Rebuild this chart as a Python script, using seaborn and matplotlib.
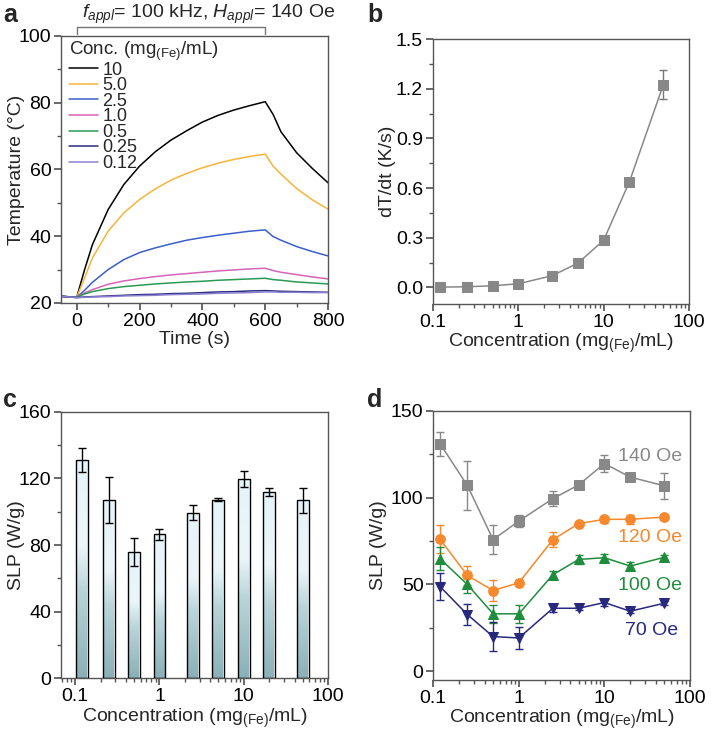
import numpy as np
import pandas as pd
import matplotlib
matplotlib.use("Agg")
import matplotlib.pyplot as plt
import matplotlib.transforms as mtransforms
from matplotlib.colors import LinearSegmentedColormap
from matplotlib.ticker import MultipleLocator, LogLocator, NullFormatter, FixedLocator
import seaborn as sns

# ---- panel a: heating curves ----
time_s = [-50, 0, 25, 50, 100, 150, 200, 250, 300, 350, 400, 450, 500, 550, 600, 625, 650, 700, 750, 800]
temp_10 = [22.0, 21.7, 30.0, 37.5, 48.0, 55.5, 61.0, 65.3, 68.8, 71.6, 74.2, 76.2, 77.8, 79.1, 80.3, 76.5, 71.3, 65.0, 60.3, 56.0]
temp_5 = [22.0, 21.7, 27.5, 33.5, 41.5, 47.0, 51.0, 54.2, 56.8, 58.8, 60.5, 61.9, 63.0, 63.9, 64.6, 61.0, 58.6, 54.3, 50.9, 48.1]
temp_2_5 = [22.0, 21.7, 23.8, 26.2, 30.0, 33.0, 35.1, 36.5, 37.7, 38.8, 39.6, 40.3, 40.9, 41.5, 41.9, 39.9, 38.8, 36.9, 35.4, 34.1]
temp_1 = [22.0, 21.7, 23.0, 24.0, 25.6, 26.6, 27.3, 27.9, 28.4, 28.8, 29.2, 29.6, 29.9, 30.2, 30.4, 29.7, 29.2, 28.5, 27.8, 27.2]
temp_0_5 = [22.0, 21.7, 22.7, 23.4, 24.3, 24.9, 25.3, 25.7, 26.0, 26.3, 26.5, 26.8, 27.0, 27.2, 27.4, 27.0, 26.8, 26.3, 26.0, 25.7]
temp_0_25 = [22.0, 21.6, 21.8, 21.9, 22.1, 22.3, 22.5, 22.6, 22.8, 22.9, 23.1, 23.3, 23.4, 23.6, 23.7, 23.6, 23.5, 23.4, 23.3, 23.2]
temp_0_12 = [22.0, 21.6, 21.7, 21.8, 21.9, 22.1, 22.2, 22.3, 22.5, 22.6, 22.7, 22.9, 23.0, 23.1, 23.3, 23.3, 23.2, 23.2, 23.1, 23.1]
curve_labels = ["10", "5.0", "2.5", "1.0", "0.5", "0.25", "0.12"]
curve_colors = ["#000000", "#f9b43a", "#3b5fc8", "#d664b8", "#2b9a56", "#2c2c80", "#8c80d2"]

# ---- panel b: heating rate ----
conc = [0.12, 0.25, 0.5, 1, 2.5, 5, 10, 20, 50]
rate = [0.002, 0.004, 0.01, 0.022, 0.071, 0.147, 0.285, 0.638, 1.225]
rate_err = [0.003, 0.003, 0.003, 0.004, 0.005, 0.006, 0.008, 0.015, 0.085]

# ---- panel c/d: SLP ----
slp_140 = [131.0, 107.0, 75.8, 86.5, 99.4, 107.3, 119.6, 111.8, 106.8]
err_140 = [7.0, 14.0, 8.5, 3.2, 4.5, 1.0, 5.0, 2.4, 7.5]
slp_120 = [76.0, 55.2, 46.5, 51.0, 75.8, 85.0, 87.5, 87.5, 88.8]
err_120 = [8.0, 5.5, 6.0, 1.5, 4.5, 1.0, 2.0, 2.5, 1.0]
slp_100 = [64.8, 50.0, 33.1, 33.1, 55.6, 64.4, 65.4, 60.6, 65.6]
err_100 = [6.5, 5.0, 5.0, 5.0, 2.0, 2.5, 2.0, 2.5, 1.5]
slp_70 = [48.8, 32.7, 20.0, 19.2, 36.3, 36.3, 39.6, 34.6, 39.2]
err_70 = [8.0, 6.0, 8.5, 6.5, 2.0, 1.0, 2.0, 1.0, 1.0]
field_labels = ["140 Oe", "120 Oe", "100 Oe", "70 Oe"]
field_colors = ["#888888", "#f7882c", "#1f8d3c", "#28297c"]
field_markers = ["s", "o", "^", "v"]

sns.set_theme(style="ticks")
plt.rcParams["font.family"] = ["Liberation Sans", "DejaVu Sans"]
plt.rcParams["mathtext.fontset"] = "custom"
plt.rcParams["mathtext.rm"] = "Liberation Sans"
plt.rcParams["mathtext.it"] = "Liberation Sans:italic"
plt.rcParams["font.size"] = 14
plt.rcParams["axes.edgecolor"] = "#555555"
plt.rcParams["axes.linewidth"] = 1.0
plt.rcParams["xtick.color"] = "#555555"
plt.rcParams["ytick.color"] = "#555555"
plt.rcParams["xtick.labelcolor"] = "black"
plt.rcParams["ytick.labelcolor"] = "black"
plt.rcParams["xtick.direction"] = "out"
plt.rcParams["ytick.direction"] = "out"
plt.rcParams["xtick.major.size"] = 5
plt.rcParams["ytick.major.size"] = 5
plt.rcParams["xtick.minor.size"] = 3
plt.rcParams["ytick.minor.size"] = 3
plt.rcParams["xtick.major.pad"] = 2
plt.rcParams["ytick.major.pad"] = 2
plt.rcParams["xtick.labelsize"] = 14
plt.rcParams["ytick.labelsize"] = 14
plt.rcParams["axes.labelsize"] = 14

fig = plt.figure(figsize=(7.13, 7.35), dpi=100)
ax_a = fig.add_axes([0.0856, 0.5878, 0.3745, 0.3633])
ax_b = fig.add_axes([0.607, 0.5864, 0.3595, 0.3605])
ax_c = fig.add_axes([0.0856, 0.0771, 0.3745, 0.3627])
ax_d = fig.add_axes([0.6077, 0.0748, 0.360, 0.3664])

conc_label = r"Concentration (mg$_{\mathrm{(Fe)}}$/mL)"

# panel a
curves = [temp_10, temp_5, temp_2_5, temp_1, temp_0_5, temp_0_25, temp_0_12]
df_a = pd.DataFrame({
    "time": time_s * len(curves),
    "temp": sum(curves, []),
    "conc": sum([[lab] * len(time_s) for lab in curve_labels], []),
})
sns.lineplot(data=df_a, x="time", y="temp", hue="conc", hue_order=curve_labels,
             palette=curve_colors, linewidth=1.1, ax=ax_a, legend=True)
ax_a.set_xlim(-50, 800)
ax_a.set_ylim(20, 100)
ax_a.xaxis.set_major_locator(MultipleLocator(200))
ax_a.xaxis.set_minor_locator(MultipleLocator(100))
ax_a.yaxis.set_major_locator(MultipleLocator(20))
ax_a.yaxis.set_minor_locator(MultipleLocator(10))
ax_a.set_xlabel("Time (s)", labelpad=1)
ax_a.set_ylabel("Temperature (°C)")
ax_a.yaxis.set_label_coords(-0.135, 0.5)
leg = ax_a.legend(title=r"Conc. (mg$_{\mathrm{(Fe)}}$/mL)", loc="upper left",
                  bbox_to_anchor=(0.03, 0.985), frameon=False, borderaxespad=0,
                  borderpad=0, labelspacing=-0.08, handlelength=1.6,
                  handletextpad=0.25, alignment="left", fontsize=13, title_fontsize=13.5)
trans = mtransforms.blended_transform_factory(ax_a.transData, ax_a.transAxes)
ax_a.plot([0, 0, 600, 600], [1.006, 1.033, 1.033, 1.006], color="#777777", lw=1.0,
          transform=trans, clip_on=False)
fig.text(0.292, 0.976, r"$f_{appl}$= 100 kHz, $H_{appl}$= 140 Oe", ha="center",
         va="baseline", fontsize=14)

# panel b
ax_b.errorbar(conc, rate, yerr=rate_err, fmt="none", ecolor="#777777", elinewidth=1,
              capsize=3, zorder=2)
sns.lineplot(x=conc, y=rate, color="#888888", marker="s", markersize=7,
             markeredgecolor="#888888", linewidth=1.1, ax=ax_b, zorder=3)
ax_b.set_xscale("log")
ax_b.set_xlim(0.1, 100)
ax_b.set_ylim(-0.1, 1.5)
ax_b.yaxis.set_major_locator(FixedLocator([0.0, 0.3, 0.6, 0.9, 1.2, 1.5]))
ax_b.yaxis.set_minor_locator(FixedLocator([0.15, 0.45, 0.75, 1.05, 1.35]))
ax_b.yaxis.set_major_formatter(matplotlib.ticker.FormatStrFormatter("%.1f"))
ax_b.set_xlabel(conc_label, labelpad=1)
ax_b.set_ylabel("dT/dt (K/s)")
ax_b.yaxis.set_label_coords(-0.145, 0.5)

# panel c
grad_cmap = LinearSegmentedColormap.from_list(
    "bar_grad", [(0.0, "#8ab0b8"), (0.4, "#b9d5da"), (0.6, "#eaf6f9"), (1.0, "#e5f4f9")])
half = 10 ** 0.07
lefts = [c / half for c in conc]
widths = [c * half - c / half for c in conc]
bars = ax_c.bar(lefts, slp_140, width=widths, align="edge", facecolor="none",
                edgecolor="black", linewidth=1.0, zorder=3)
grad = np.linspace(0, 1, 256).reshape(-1, 1)
for bar, l, w, h in zip(bars, lefts, widths, slp_140):
    im = ax_c.imshow(grad, cmap=grad_cmap, origin="lower", aspect="auto",
                     extent=(l, l + w, 0, h), zorder=2)
    im.set_clip_path(bar)
ax_c.errorbar(conc, slp_140, yerr=err_140, fmt="none", ecolor="black", elinewidth=1,
              capsize=3, zorder=4)
ax_c.set_xscale("log")
ax_c.set_xlim(0.068, 100)
ax_c.set_ylim(0, 160)
ax_c.yaxis.set_major_locator(MultipleLocator(40))
ax_c.yaxis.set_minor_locator(MultipleLocator(20))
ax_c.set_xlabel(conc_label, labelpad=1)
ax_c.set_ylabel("SLP (W/g)")
ax_c.yaxis.set_label_coords(-0.135, 0.5)

# panel d
series = [(slp_140, err_140), (slp_120, err_120), (slp_100, err_100), (slp_70, err_70)]
for (vals, errs), col, mk in zip(series, field_colors, field_markers):
    ax_d.errorbar(conc, vals, yerr=errs, fmt="none", ecolor=col, elinewidth=1,
                  capsize=3, zorder=2)
    sns.lineplot(x=conc, y=vals, color=col, marker=mk, markersize=7,
                 markeredgecolor=col, linewidth=1.1, ax=ax_d, zorder=3)
label_pos = [(80, 123.5), (80, 77), (80, 49.4), (73, 23.5)]
for lab, col, (lx, ly) in zip(field_labels, field_colors, label_pos):
    ax_d.text(lx, ly, lab, color=col, ha="right", va="center", fontsize=14)
ax_d.set_xscale("log")
ax_d.set_xlim(0.1, 100)
ax_d.set_ylim(-5, 150)
ax_d.yaxis.set_major_locator(MultipleLocator(50))
ax_d.yaxis.set_minor_locator(MultipleLocator(25))
ax_d.set_xlabel(conc_label, labelpad=1)
ax_d.set_ylabel("SLP (W/g)")
ax_d.yaxis.set_label_coords(-0.18, 0.5)

for ax in (ax_b, ax_c, ax_d):
    ax.xaxis.set_major_locator(LogLocator(base=10, numticks=10))
    ax.xaxis.set_minor_locator(LogLocator(base=10, subs=np.arange(2, 10), numticks=10))
    ax.xaxis.set_minor_formatter(NullFormatter())
    ax.xaxis.set_major_formatter(matplotlib.ticker.FuncFormatter(lambda v, p: f"{v:g}"))

for ax in (ax_a, ax_b, ax_c, ax_d):
    for s in ax.spines.values():
        s.set_visible(True)

fig.text(0.004, 0.97, "a", fontsize=18, fontweight="bold", va="baseline")
fig.text(0.515, 0.97, "b", fontsize=18, fontweight="bold", va="baseline")
fig.text(0.004, 0.446, "c", fontsize=18, fontweight="bold", va="baseline")
fig.text(0.515, 0.446, "d", fontsize=18, fontweight="bold", va="baseline")

fig.savefig("out.png", dpi=100)
